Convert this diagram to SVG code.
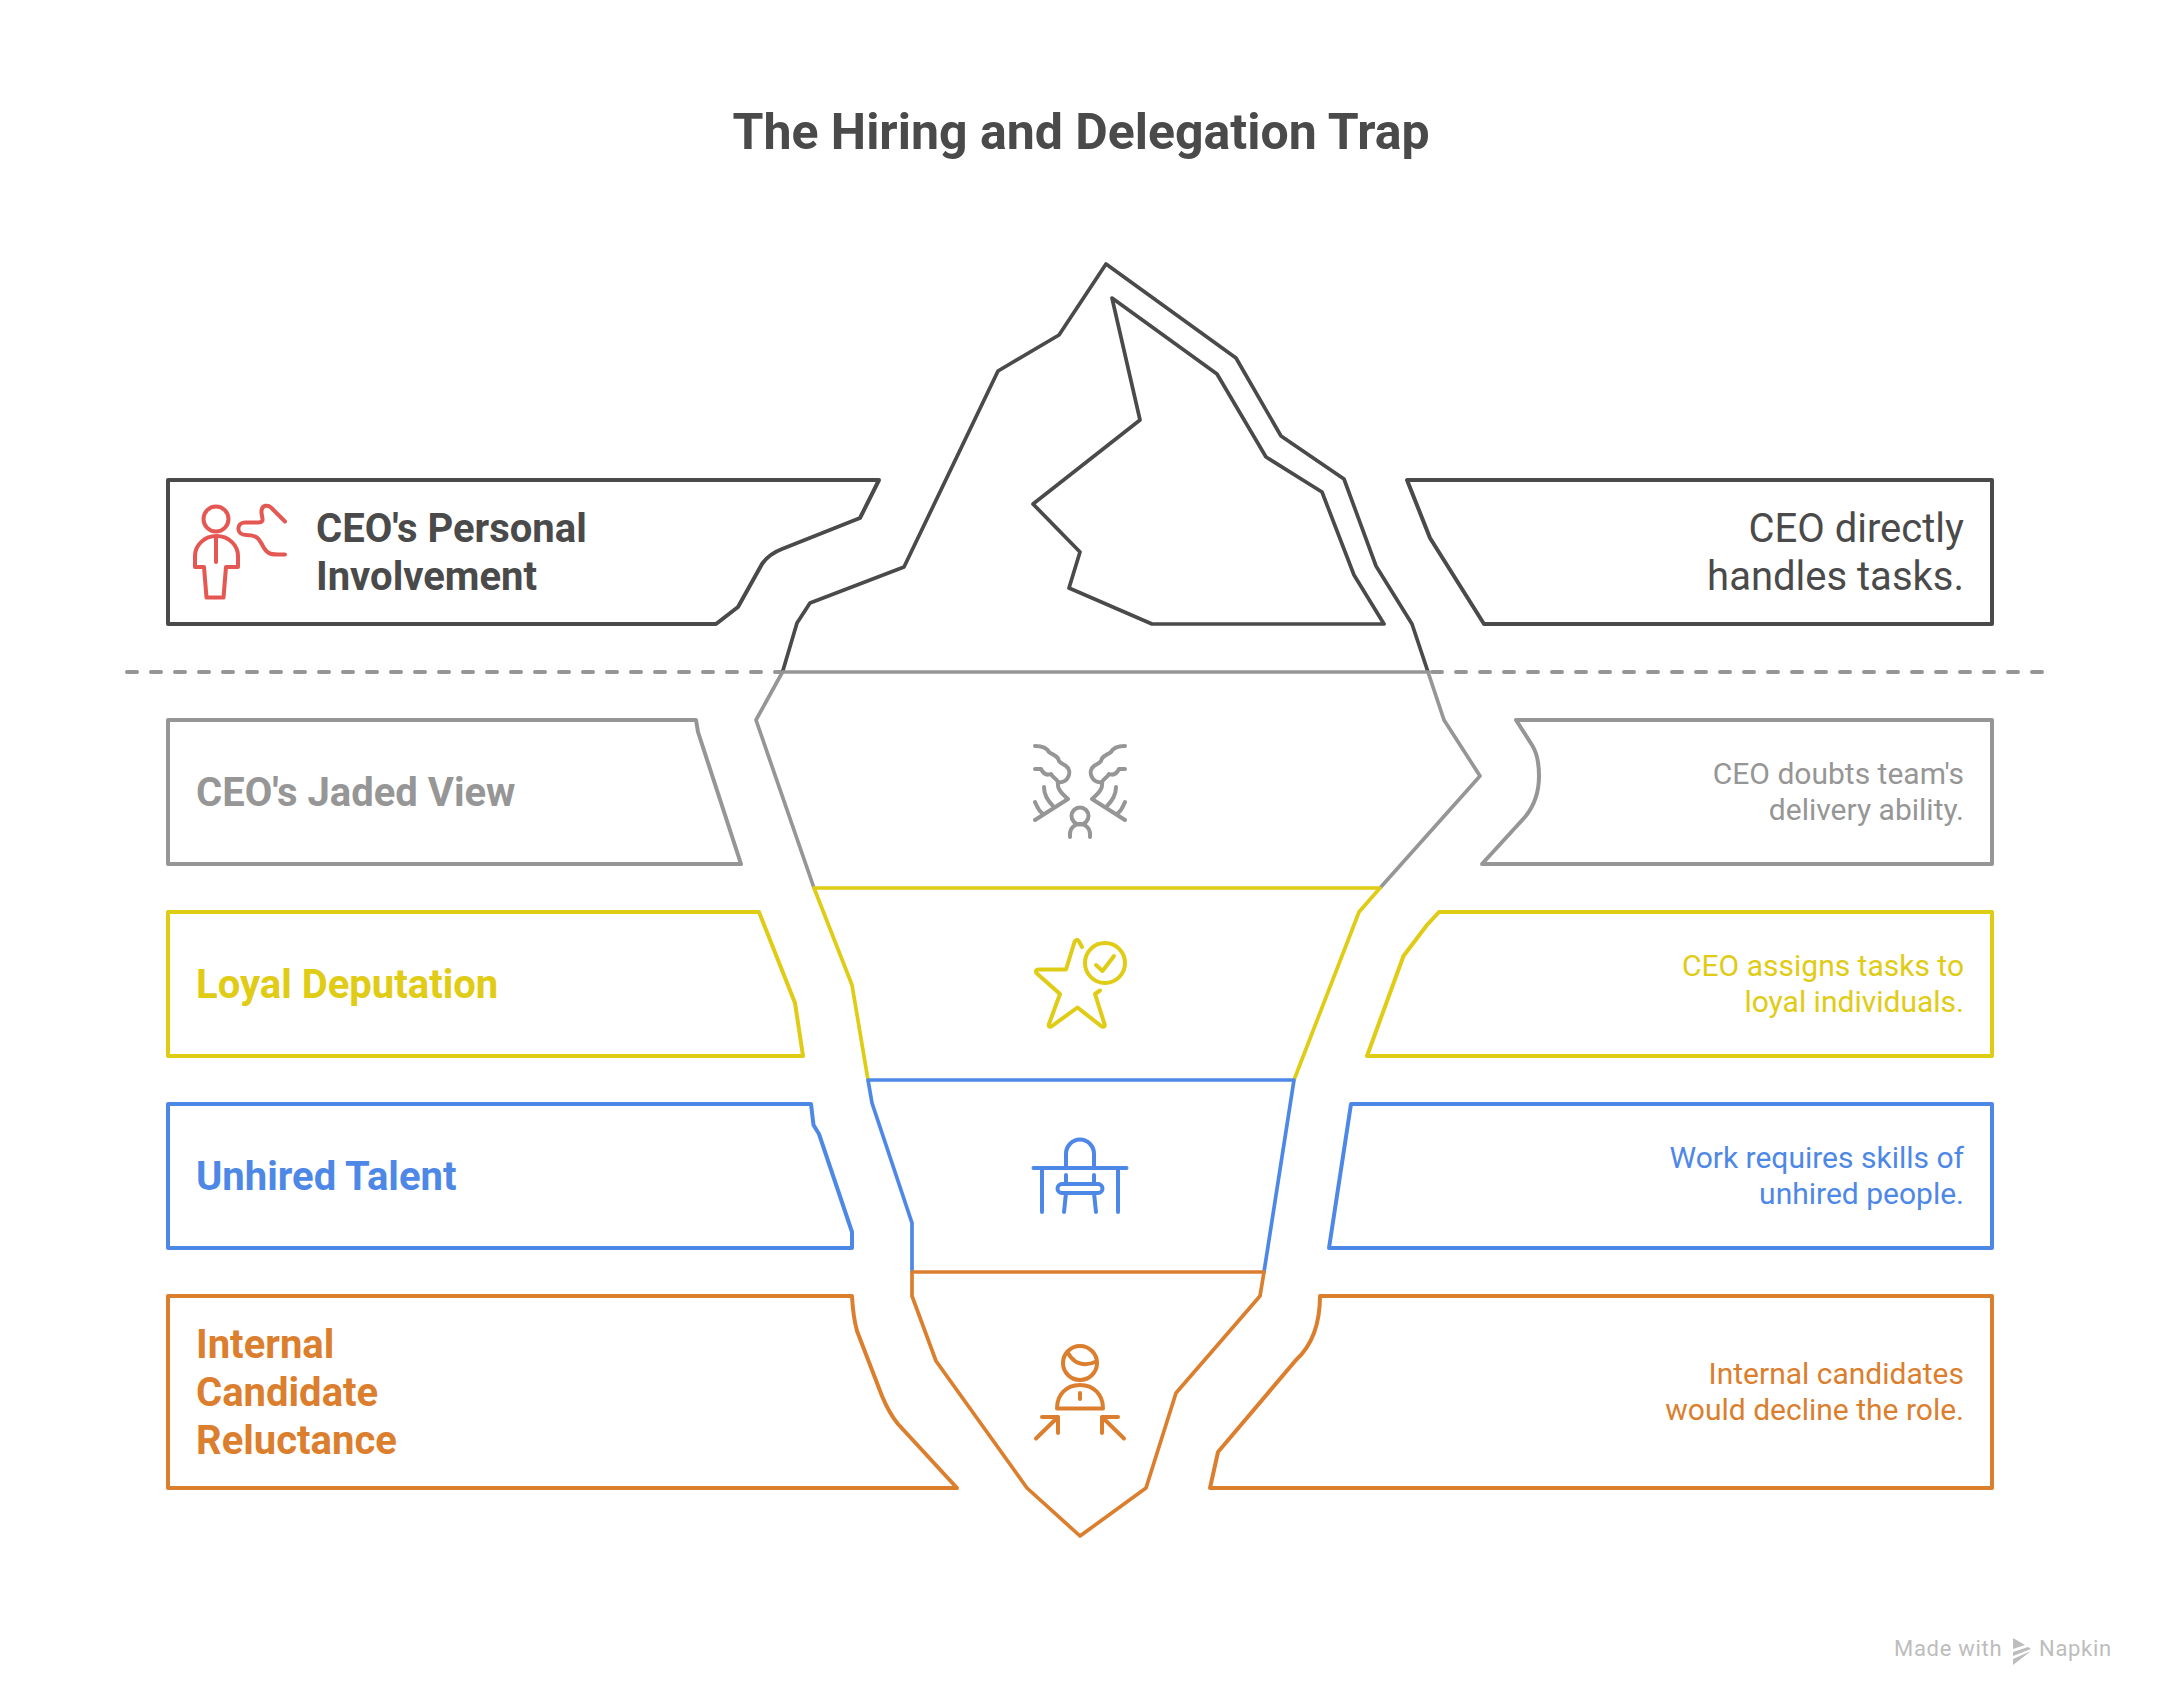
<svg xmlns="http://www.w3.org/2000/svg" width="2160" height="1704" viewBox="0 0 2160 1704">
<style>
text{font-family:Roboto,"Liberation Sans",sans-serif}
.s{fill:none;stroke-linejoin:round;stroke-linecap:round}
.b{stroke-width:4}.i{stroke-width:3.700}.c{stroke-width:4}
.dk{stroke:#4A4A4A}.gr{stroke:#969696}.ye{stroke:#E0CB15}.bl{stroke:#4E88E7}.or{stroke:#DB7F2E}.re{stroke:#E55753}
.tdk{fill:#4A4A4A}.tgr{fill:#969696}.tye{fill:#E0CB15}.tbl{fill:#4E88E7}.tor{fill:#DB7F2E}
.h{font-size:40px;font-weight:700}
.d{font-size:30px;font-weight:400;text-anchor:end}
.dl{font-size:40px;font-weight:400;text-anchor:end}
</style>
<rect width="2160" height="1704" fill="#fff"/>
<text x="1081" y="149" text-anchor="middle" font-size="50" font-weight="700" class="tdk">The Hiring and Delegation Trap</text>
<g id="connectors">
<path d="M127 672H782" class="s gr b" stroke-dasharray="10 14"/>
<path d="M1432 672H2045" class="s gr b" stroke-dasharray="10 14"/>
</g>
<g id="iceberg">
<path d="M782.500 672L797 623L810 603L904 567L998 371L1059 335L1106 264L1236 358L1281 436L1344 479L1376 566L1412 624L1428 672" class="s dk i"/>
<path d="M1112 298L1217 374L1266 457L1322 492L1354 575L1384 624H1152L1069 588L1080 552L1033 504L1140 420Z" class="s dk i"/>
<path d="M814 888L756 720L782.500 672H1428L1444 720L1480 776L1380 888" class="s gr i"/>
<path d="M868 1080L852 985L814 888H1380L1359 912L1294 1080" class="s ye i"/>
<path d="M912 1272V1223L872 1103L868 1080H1294L1264 1272" class="s bl i"/>
<path d="M912 1272V1296L936 1361L1027 1488L1080 1536L1146 1488L1176 1393L1260 1296L1264 1272Z" class="s or i"/>
</g>
<g id="node-personal">
<path d="M168 480H879L860 518L782 549Q769 554 762 564L738 607L716 624H168Z" class="s dk b"/>
<g class="s re c">
<circle cx="216" cy="519" r="12.500"/>
<path d="M195 567V556A21.500 20 0 0 1 238 556V567H226L223.500 597.500H206.500L204 567Z"/>
<path d="M216 537V562"/>
<path d="M285 521.500L272 508.500C268 504 262 505 261.500 511C261 517 266 522.500 258 522.500H245C236 522.500 236 535 246 535C258 535 259 539 264 548C268 555 272 554.500 285 554.500"/>
</g>
<text x="316" y="542" class="h tdk">CEO's Personal</text>
<text x="316" y="590" class="h tdk">Involvement</text>
</g>
<g id="desc-personal">
<path d="M1407 480H1992V624H1484L1430 538Z" class="s dk b"/>
<text x="1964" y="542" class="dl tdk">CEO directly</text>
<text x="1964" y="590" class="dl tdk">handles tasks.</text>
</g>
<g id="node-jaded">
<path d="M168 720H696L698 732L741 864H168Z" class="s gr b"/>
<text x="196" y="806" class="h tgr">CEO's Jaded View</text>
<g class="s gr c">
<circle cx="1080" cy="816" r="8.500"/>
<path d="M1070 837V834A10 10 0 0 1 1090 834V837"/>
<path id="jl" d="M1035 820L1068 799C1060 792 1057 788 1058 782C1068 784 1073 771 1066 766C1062 763 1060 763 1059 761C1058 755 1052 755 1049 752C1047 748 1043 746 1035 746M1035 769H1041C1043 773 1046 776 1051 774C1053 778 1056 778 1058 782M1035 802C1037 806 1038 810 1042 813M1044 787C1044 795 1048 801 1053 806"/>
<use href="#jl" transform="matrix(-1 0 0 1 2160 0)"/>
</g>
</g>
<g id="desc-jaded">
<path d="M1516 720H1992V864H1482L1525 817Q1539 800 1539 776Q1539 756 1532 745Z" class="s gr b"/>
<text x="1964" y="784" class="d tgr">CEO doubts team's</text>
<text x="1964" y="820" class="d tgr">delivery ability.</text>
</g>
<g id="node-loyal">
<path d="M168 912H759L795 1003L803 1056H168Z" class="s ye b"/>
<text x="196" y="998" class="h tye">Loyal Deputation</text>
<g class="s ye c">
<path d="M1082 947L1079 941.500C1077.500 939 1075.500 939.500 1074.500 942L1066 969.500H1039C1035.500 969.500 1035 972 1037.500 974L1060 994L1049 1024C1048 1027 1050 1027.500 1052 1026L1077.500 1007.500L1101 1026C1103 1027.500 1105.500 1027 1104.500 1024L1095 994L1100 990.500"/>
<circle cx="1105" cy="963" r="20"/>
<path d="M1096 965L1102.500 971L1114 956"/>
</g>
</g>
<g id="desc-loyal">
<path d="M1439 912H1992V1056H1367L1403.500 956L1427 925Z" class="s ye b"/>
<text x="1964" y="976" class="d tye">CEO assigns tasks to</text>
<text x="1964" y="1012" class="d tye">loyal individuals.</text>
</g>
<g id="node-unhired">
<path d="M168 1104H811L813.500 1125L819 1134L852 1232V1248H168Z" class="s bl b"/>
<text x="196" y="1190" class="h tbl">Unhired Talent</text>
<g class="s bl c">
<path d="M1033.500 1168H1126.500M1042 1168V1212M1118 1168V1212"/>
<path d="M1066 1168V1154A14 14.500 0 0 1 1094 1154V1168"/>
<rect x="1057.500" y="1184" width="45" height="9" rx="4.500"/>
<path d="M1066 1175V1184M1094 1175V1184M1066 1193L1064 1212M1094 1193L1096 1212"/>
</g>
</g>
<g id="desc-unhired">
<path d="M1351 1104H1992V1248H1329Z" class="s bl b"/>
<text x="1964" y="1168" class="d tbl">Work requires skills of</text>
<text x="1964" y="1204" class="d tbl">unhired people.</text>
</g>
<g id="node-reluctance">
<path d="M168 1296H852Q853 1316 857 1331L882 1396Q889 1413 898 1424L957 1488H168Z" class="s or b"/>
<text x="196" y="1358" class="h tor">Internal</text>
<text x="196" y="1406" class="h tor">Candidate</text>
<text x="196" y="1454" class="h tor">Reluctance</text>
<g class="s or c">
<circle cx="1080" cy="1363" r="17"/>
<path d="M1068 1353C1074 1364 1084 1367 1096.500 1361.500"/>
<path d="M1057 1408.500H1103C1103 1395 1094 1385 1080 1385C1066 1385 1057 1395 1057 1408.500Z"/>
<path d="M1080 1393V1399"/>
<path d="M1036 1438.500L1058 1417M1042 1417H1058V1433"/>
<path d="M1124 1438.500L1102 1417M1118 1417H1102V1433"/>
</g>
</g>
<g id="desc-reluctance">
<path d="M1320 1296H1992V1488H1210L1218 1452L1296 1360Q1320 1338 1320 1296Z" class="s or b"/>
<text x="1964" y="1384" class="d tor">Internal candidates</text>
<text x="1964" y="1420" class="d tor">would decline the role.</text>
</g>
<g id="footer">
<text x="1894" y="1656" font-size="22" letter-spacing="0.7" fill="#BDBDBD">Made with</text>
<path d="M2013 1638L2025 1645L2013 1649ZM2013 1652L2028 1647L2031 1649L2013 1656ZM2013 1659L2031 1651L2013 1665Z" fill="#BDBDBD"/>
<text x="2039" y="1656" font-size="22" letter-spacing="0.7" fill="#BDBDBD">Napkin</text>
</g>
</svg>
